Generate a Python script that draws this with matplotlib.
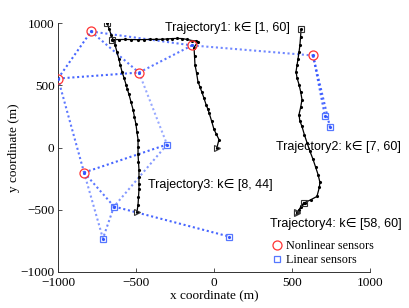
import matplotlib
matplotlib.use("Agg")
import matplotlib.pyplot as plt
from matplotlib.lines import Line2D

# Sensor positions
nonlinear_x = [-788, -1000, -481, -141, 635, -833]
nonlinear_y = [932, 554, 602, 820, 739, -201]
linear_x = [-301, -641, -712, 96, 712, 744]
linear_y = [24, -474, -731, -715, 249, 161]

# Sensor links: (type_a, idx_a, type_b, idx_b, alpha)
links = [
    ("N", 1, "N", 0, 0.9), ("N", 0, "N", 2, 0.8), ("N", 0, "N", 3, 0.8),
    ("N", 1, "N", 2, 0.9), ("N", 2, "N", 3, 0.8), ("N", 3, "N", 4, 0.7),
    ("N", 4, "L", 4, 0.9), ("N", 4, "L", 5, 0.9), ("N", 1, "N", 5, 0.8),
    ("N", 2, "L", 0, 0.5), ("N", 5, "L", 0, 0.9), ("L", 0, "L", 1, 0.6),
    ("N", 5, "L", 1, 0.8), ("N", 5, "L", 2, 0.6), ("L", 1, "L", 2, 0.7),
    ("L", 1, "L", 3, 0.9),
]

# Trajectories
traj1_x = [-654, -610, -570, -530, -487, -450, -410, -370, -333, -300, -269, -237, -205, -173, -141, -115, -103,
           -128, -125, -122, -112, -103, -90, -77, -64, -51, -40, -32, -16, 0, 16, 32, 19]
traj1_y = [867, 867, 868, 867, 866, 867, 868, 869, 869, 872, 875, 876, 875, 868, 859, 855, 851,
           803, 735, 666, 600, 530, 486, 442, 395, 345, 310, 281, 215, 145, 105, 64, 0]
traj2_x = [558, 555, 551, 545, 538, 532, 526, 532, 545, 556, 564, 556, 545, 550, 564, 580, 596, 615, 635, 652,
           667, 679, 675, 660, 620, 583, 560, 532]
traj2_y = [948, 890, 827, 765, 707, 660, 610, 560, 506, 445, 385, 325, 265, 215, 169, 100, 40, -30, -96, -160,
           -217, -280, -321, -393, -420, -442, -480, -522]
traj3_x = [-686, -673, -660, -647, -635, -622, -609, -600, -590, -577, -564, -555, -545, -532, -519, -510, -500,
           -494, -487, -487, -487, -484, -481, -481, -481, -481, -484, -487, -494]
traj3_y = [1004, 955, 907, 867, 827, 767, 707, 660, 610, 560, 506, 466, 426, 365, 305, 245, 185,
           125, 64, 4, -56, -117, -177, -237, -297, -337, -400, -458, -522]
traj4_x = [577, 560, 545, 532]
traj4_y = [-442, -470, -500, -530]

labels = ["Trajectory1: k\u2208 [1, 60]", "Trajectory2: k\u2208 [7, 60]",
          "Trajectory3: k\u2208 [8, 44]", "Trajectory4: k\u2208 [58, 60]"]
label_x = [-314, 397, -423, 359]
label_y = [963, 5, -305, -618]

legend_labels = ["Nonlinear sensors", "Linear sensors"]

serif = ["Liberation Serif", "DejaVu Serif"]
sans = ["Liberation Sans", "DejaVu Sans"]

fig = plt.figure(figsize=(4.09, 3.08), dpi=100)
ax = fig.add_axes([58 / 409, 36 / 308, 312 / 409, 249 / 308])

blue = "#3355ff"
red = "#ff3333"

def pos(t, i):
    if t == "N":
        return nonlinear_x[i], nonlinear_y[i]
    return linear_x[i], linear_y[i]

for ta, ia, tb, ib, al in links:
    xa, ya = pos(ta, ia)
    xb, yb = pos(tb, ib)
    ax.plot([xa, xb], [ya, yb], linestyle=(0, (1, 1.3)), color=blue, lw=1.5, alpha=al, zorder=2)

for tx, ty in [(traj1_x, traj1_y), (traj2_x, traj2_y), (traj3_x, traj3_y), (traj4_x, traj4_y)]:
    ax.plot(tx, ty, color="black", lw=0.9, marker=".", ms=2.5, zorder=3)
    ax.plot(tx[0], ty[0], marker="s", ms=4, mfc="none", mec="#333333", mew=0.8, zorder=4)
    ax.plot(tx[-1], ty[-1], marker=">", ms=4, mfc="none", mec="#333333", mew=0.8, zorder=4)

ax.plot(nonlinear_x, nonlinear_y, linestyle="none", marker="o", ms=6.5, mfc="none", mec=red, mew=0.9, zorder=5)
ax.plot(linear_x, linear_y, linestyle="none", marker="s", ms=5, mfc="none", mec="#5577ff", mew=0.9, zorder=5)
ax.plot(nonlinear_x + linear_x, nonlinear_y + linear_y, linestyle="none", marker=".", ms=2.5, color=blue, zorder=6)

for s, x, y in zip(labels, label_x, label_y):
    ax.text(x, y, s, fontsize=9, family=sans, va="center", ha="left", zorder=7)

handles = [
    Line2D([], [], linestyle="none", marker="o", ms=6.5, mfc="none", mec=red, mew=0.9),
    Line2D([], [], linestyle="none", marker="s", ms=5, mfc="none", mec="#5577ff", mew=0.9),
]
leg = ax.legend(handles, legend_labels, loc="lower right", bbox_to_anchor=(1.035, -0.005), frameon=False,
                prop={"family": serif, "size": 8.7}, handletextpad=0.1, labelspacing=0.15, handlelength=1.2,
                borderaxespad=0.2)

ax.set_xlim(-1000, 1000)
ax.set_ylim(-1000, 1000)
ax.set_xticks([-1000, -500, 0, 500, 1000])
ax.set_yticks([-1000, -500, 0, 500, 1000])
ax.set_xticklabels(["\u22121000", "\u2212500", "0", "500", "1000"], family=serif, fontsize=9.5)
ax.set_yticklabels(["\u22121000", "\u2212500", "0", "500", "1000"], family=serif, fontsize=9.5)
ax.tick_params(direction="in", length=3, width=0.6, colors="#333333", labelcolor="black", pad=2)
ax.tick_params(axis="x", pad=3.5)
ax.tick_params(axis="y", pad=2.5)
for side in ["top", "right"]:
    ax.spines[side].set_visible(False)
for side in ["left", "bottom"]:
    ax.spines[side].set_linewidth(0.7)
    ax.spines[side].set_color("#333333")
ax.set_xlabel("x coordinate (m)", family=serif, fontsize=9.5, labelpad=0)
ax.set_ylabel("y coordinate (m)", family=serif, fontsize=9.5, labelpad=0)

fig.savefig("out.png", dpi=100)
